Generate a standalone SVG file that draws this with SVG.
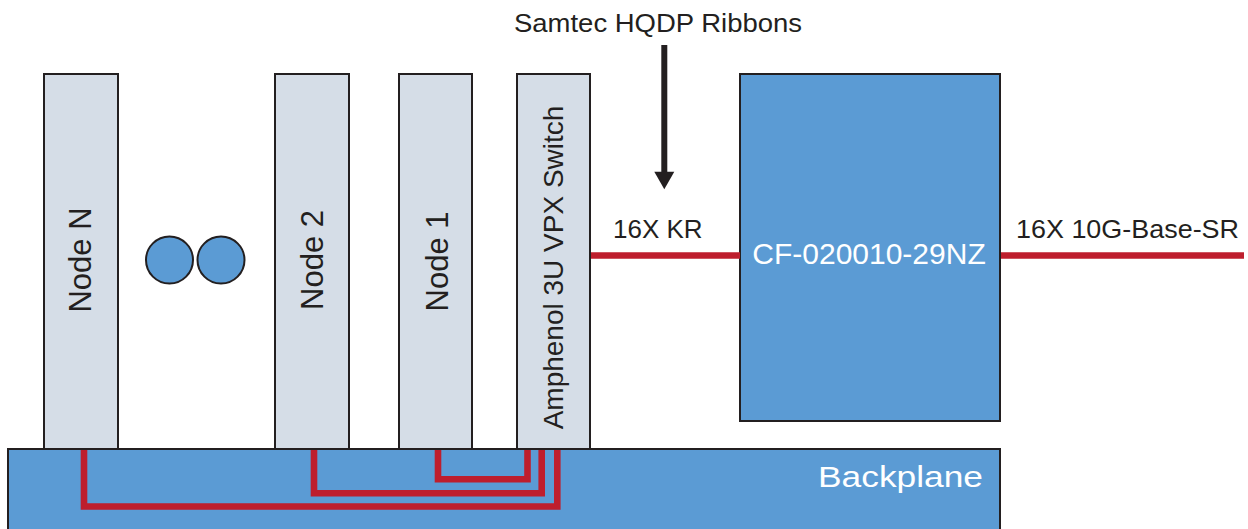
<svg xmlns="http://www.w3.org/2000/svg" width="1248" height="529" viewBox="0 0 1248 529">
<style>
.card{fill:#d5dde7;stroke:#231f20;stroke-width:2}
.blue{fill:#5b9bd4;stroke:#231f20;stroke-width:2}
.t{font-family:"Liberation Sans",Arial,sans-serif;fill:#231f20}
.w{font-family:"Liberation Sans",Arial,sans-serif;fill:#ffffff}
.red{fill:none;stroke:#be1e2d;stroke-width:6.6;stroke-linejoin:miter;stroke-linecap:butt}
</style>
<rect width="1248" height="529" fill="#ffffff"/>
<g id="nodeN"><rect class="card" x="44" y="74" width="74" height="380"/><text class="t" font-size="31" text-anchor="middle" transform="translate(91,260) rotate(-90)">Node N</text></g>
<g id="dots"><circle class="blue" cx="169.5" cy="260" r="23.5"/><circle class="blue" cx="221" cy="260" r="23.5"/></g>
<g id="node2"><rect class="card" x="275" y="74" width="74" height="380"/><text class="t" font-size="31" text-anchor="middle" transform="translate(323,260) rotate(-90)">Node 2</text></g>
<g id="node1"><rect class="card" x="399" y="74" width="73" height="380"/><text class="t" font-size="31" text-anchor="middle" transform="translate(448,261.5) rotate(-90)">Node 1</text></g>
<g id="switch"><rect class="card" x="517" y="74" width="73" height="380"/><text class="t" font-size="28" text-anchor="middle" transform="translate(563,267.5) rotate(-90)">Amphenol 3U VPX Switch</text></g>
<g id="cf"><rect class="blue" x="740" y="74" width="260" height="347"/><text class="w" font-size="30" text-anchor="middle" x="869" y="264">CF-020010-29NZ</text></g>
<g id="backplane"><rect class="blue" x="8" y="449" width="992" height="90"/><text class="w" font-size="30" x="818" y="487" textLength="165" lengthAdjust="spacingAndGlyphs">Backplane</text></g>
<g id="connectors">
<path class="red" d="M84,450 V506.5 H557.3 V450"/>
<path class="red" d="M314,450 V493.3 H541.7 V450"/>
<path class="red" d="M438,450 V479.3 H527.5 V450"/>
<line class="red" x1="591" y1="255.5" x2="740" y2="255.5"/>
<line class="red" x1="1001" y1="255.5" x2="1244" y2="255.5"/>
<line x1="664.3" y1="45" x2="664.3" y2="173" stroke="#231f20" stroke-width="6"/>
<polygon points="654.3,171.7 674.3,171.7 664.3,189.3" fill="#231f20"/>
</g>
<g id="labels">
<text class="t" font-size="26" x="514" y="31.7" textLength="288" lengthAdjust="spacingAndGlyphs">Samtec HQDP Ribbons</text>
<text class="t" font-size="26" x="613" y="237.7">16X KR</text>
<text class="t" font-size="26" x="1016" y="237.7" textLength="223" lengthAdjust="spacingAndGlyphs">16X 10G-Base-SR</text>
</g>
</svg>
